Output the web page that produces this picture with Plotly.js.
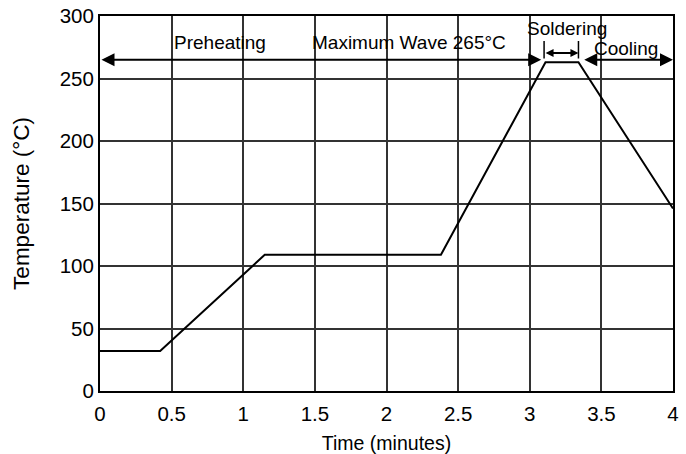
<!DOCTYPE html>
<html>
<head>
<meta charset="utf-8">
<script src="https://cdn.plot.ly/plotly-3.0.1.min.js"></script>
<style>html,body{margin:0;padding:0;background:#fff;}#chart{width:686px;height:454px;}</style>
</head>
<body>
<div id="chart"></div>
<script>
// Reflow temperature profile
var timeMin = [0, 0.42, 1.15, 2.38, 3.11, 3.34, 4.0];
var tempC   = [32, 32, 109, 109, 263, 263, 146];

var xTickVals = [0, 0.5, 1, 1.5, 2, 2.5, 3, 3.5, 4];
var xTickText = ['0', '0.5', '1', '1.5', '2', '2.5', '3', '3.5', '4'];
var yTickVals = [0, 50, 100, 150, 200, 250, 300];

var phaseLabels = ['Preheating', 'Maximum Wave 265°C', 'Soldering', 'Cooling'];
var phaseLabelX = [0.84, 2.155, 3.26, 3.67];
var phaseLabelY = [279, 279, 290, 274];

// arrows: [x start, x end, y]
var mainArrow = [0, 3.08, 265];
var solderArrow = [3.10, 3.34, 270.5];
var coolArrow = [3.37, 4.0, 265];
var solderBarY = [266, 280];

var FONT = 'Liberation Sans, Arial, sans-serif';

var annotations = phaseLabels.map(function (t, i) {
  return {x: phaseLabelX[i], y: phaseLabelY[i], xref: 'x', yref: 'y', text: t,
    showarrow: false, font: {family: FONT, size: 19, color: '#000'}};
});

function dblArrow(a, head, size) {
  return {x: a[1], y: a[2], ax: a[0], ay: a[2], xref: 'x', yref: 'y', axref: 'x', ayref: 'y',
    text: '', showarrow: true, arrowside: 'end+start', arrowhead: head, startarrowhead: head,
    arrowsize: size, startarrowsize: size, arrowwidth: 2, arrowcolor: '#000', standoff: 0, startstandoff: 0};
}
annotations.push(dblArrow(mainArrow, 2, 1.3));
annotations.push(dblArrow(coolArrow, 2, 1.3));
annotations.push(dblArrow(solderArrow, 2, 0.8));

var shapes = [solderArrow[0], solderArrow[1]].map(function (xv) {
  return {type: 'line', xref: 'x', yref: 'y', x0: xv, x1: xv, y0: solderBarY[0], y1: solderBarY[1],
    line: {color: '#000', width: 1.5}};
});

var trace = {x: timeMin, y: tempC, type: 'scatter', mode: 'lines',
  line: {color: '#000', width: 2}, hoverinfo: 'skip'};

var layout = {
  width: 686, height: 454,
  margin: {l: 100, r: 13, t: 16, b: 63},
  paper_bgcolor: '#fff', plot_bgcolor: '#fff',
  showlegend: false,
  font: {family: FONT, color: '#000'},
  xaxis: {range: [0, 4], tickvals: xTickVals, ticktext: xTickText, showgrid: true,
    gridcolor: '#333', gridwidth: 2, zeroline: false, showline: true, linecolor: '#000',
    linewidth: 2, mirror: true, ticks: '', ticklabelstandoff: 3, tickfont: {size: 20.5, family: FONT},
    title: {text: 'Time (minutes)', font: {size: 19.5, family: FONT}, standoff: 14}},
  yaxis: {range: [0, 300], tickvals: yTickVals, showgrid: true,
    gridcolor: '#333', gridwidth: 2, zeroline: false, showline: true, linecolor: '#000',
    linewidth: 2, mirror: true, ticks: '', tickfont: {size: 20.5, family: FONT},
    title: {text: 'Temperature (°C)', font: {size: 22.5, family: FONT}, standoff: 24}},
  annotations: annotations,
  shapes: shapes
};

Plotly.newPlot('chart', [trace], layout, {displayModeBar: false, staticPlot: true});
</script>
</body>
</html>
